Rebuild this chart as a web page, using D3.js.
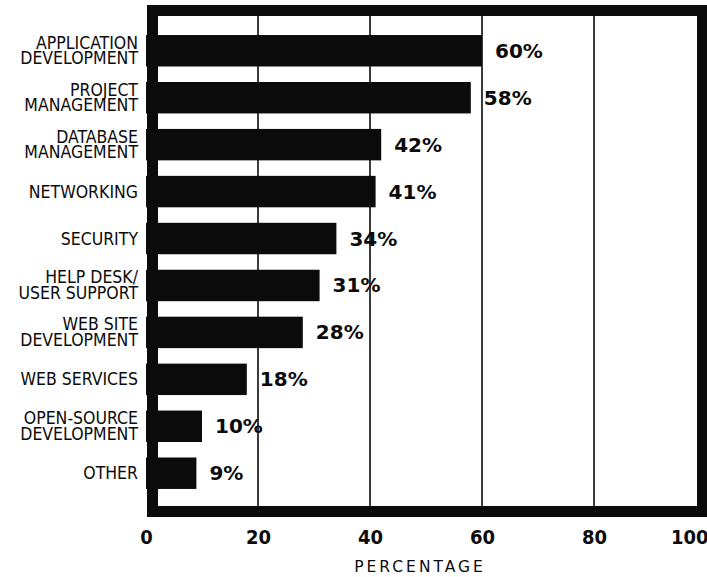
<!DOCTYPE html>
<html>
<head>
<meta charset="utf-8">
<script src="https://cdn.jsdelivr.net/npm/d3@7"></script>
<style>
  html, body { margin: 0; padding: 0; background: #fff; }
  svg { display: block; }
</style>
</head>
<body>
<svg id="chart" width="707" height="577"></svg>
<script>
// Skill areas (two-line labels split on "|")
const categories = [
  "APPLICATION|DEVELOPMENT",
  "PROJECT|MANAGEMENT",
  "DATABASE|MANAGEMENT",
  "NETWORKING",
  "SECURITY",
  "HELP DESK/|USER SUPPORT",
  "WEB SITE|DEVELOPMENT",
  "WEB SERVICES",
  "OPEN-SOURCE|DEVELOPMENT",
  "OTHER"
];
const values = [60, 58, 42, 41, 34, 31, 28, 18, 10, 9];
const tickValues = [0, 20, 40, 60, 80, 100];
const axisTitle = "PERCENTAGE";

const svg = d3.select("#chart");
const ink = "#0b0b0b";
const condensed = "'DejaVu Sans Condensed', 'DejaVu Sans', sans-serif";

const x = d3.scaleLinear().domain([0, 100]).range([146, 706]);
const y = d3.scaleBand()
  .domain(categories)
  .range([27.3, 496.7])
  .paddingInner(0.33)
  .paddingOuter(0.165);

// Frame geometry
const frame = { left: 147, top: 5, right: 708, bottom: 517, thick: 11 };

// Vertical grid lines
svg.append("g")
  .selectAll("line")
  .data(tickValues.filter(v => v > 0 && v < 100))
  .join("line")
  .attr("x1", d => x(d)).attr("x2", d => x(d))
  .attr("y1", frame.top).attr("y2", frame.bottom)
  .attr("stroke", ink)
  .attr("stroke-width", 1.6);

// Bars
svg.append("g")
  .selectAll("rect")
  .data(values)
  .join("rect")
  .attr("x", x(0))
  .attr("y", (d, i) => y(categories[i]))
  .attr("width", d => x(d) - x(0))
  .attr("height", y.bandwidth())
  .attr("fill", ink);

// Thick frame around the plot
const t = frame.thick;
svg.append("rect")
  .attr("x", frame.left + t / 2)
  .attr("y", frame.top + t / 2)
  .attr("width", frame.right - frame.left - t)
  .attr("height", frame.bottom - frame.top - t)
  .attr("fill", "none")
  .attr("stroke", ink)
  .attr("stroke-width", t);

// Value labels
svg.append("g")
  .selectAll("text")
  .data(values)
  .join("text")
  .attr("x", d => x(d) + 13)
  .attr("y", (d, i) => y(categories[i]) + y.bandwidth() / 2 + 7)
  .attr("font-family", "'DejaVu Sans', sans-serif")
  .attr("font-weight", "bold")
  .attr("font-size", 20)
  .attr("fill", ink)
  .text(d => d + "%");

// Category labels
const catG = svg.append("g")
  .selectAll("text")
  .data(categories)
  .join("text")
  .attr("text-anchor", "end")
  .attr("font-family", condensed)
  .attr("font-size", 17.5)
  .attr("fill", ink);

catG.each(function(d) {
  const lines = d.split("|");
  const cy = y(d) + y.bandwidth() / 2;
  const sel = d3.select(this);
  if (lines.length === 1) {
    sel.append("tspan").attr("x", 138).attr("y", cy + 6).text(lines[0]);
  } else {
    sel.append("tspan").attr("x", 138).attr("y", cy - 2).text(lines[0]);
    sel.append("tspan").attr("x", 138).attr("y", cy + 13.5).text(lines[1]);
  }
});

// Bottom axis with tick labels only
const axis = svg.append("g")
  .attr("transform", "translate(0,525)")
  .call(d3.axisBottom(x).tickValues(tickValues).tickSize(0).tickPadding(0));
axis.select(".domain").remove();
axis.selectAll("text")
  .attr("font-family", condensed)
  .attr("font-weight", "bold")
  .attr("font-size", 20)
  .attr("fill", ink)
  .attr("dy", "0.95em");
axis.selectAll(".tick")
  .filter(d => d === 100)
  .select("text")
  .attr("text-anchor", "end")
  .attr("x", 708 - x(100));

// Axis title
svg.append("text")
  .attr("x", 420)
  .attr("y", 572)
  .attr("text-anchor", "middle")
  .attr("font-family", "'DejaVu Sans', sans-serif")
  .attr("font-size", 15.5)
  .attr("letter-spacing", 3)
  .attr("fill", ink)
  .text(axisTitle);
</script>
</body>
</html>
